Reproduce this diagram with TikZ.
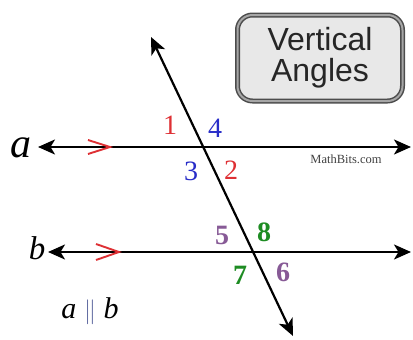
\documentclass[tikz,border=0pt]{standalone}
\usepackage{fontspec}
\setmainfont{Liberation Serif}
\setsansfont{Liberation Sans}
\usepackage{tikz}
\usetikzlibrary{arrows.meta,positioning}
\usepackage{xcolor}
\definecolor{angred}{RGB}{222,48,52}
\definecolor{angblue}{RGB}{40,45,200}
\definecolor{angpurple}{RGB}{135,90,150}
\definecolor{anggreen}{RGB}{30,140,35}
\definecolor{parblue}{RGB}{95,105,160}
\tikzset{
  >={Stealth[length=17pt,width=15pt,inset=4.5pt]},
  line/.style={<->,line width=2.2pt},
  parmark/.style={draw=angred,line width=1.9pt},
  num/.style={inner sep=0pt,font=\fontsize{28}{28}\selectfont},
  bnum/.style={inner sep=0pt,font=\fontsize{28}{28}\selectfont\bfseries},
}

\begin{document}
\begin{tikzpicture}[
x=1pt,y=-1pt,
titlebox/.style={draw=black!70,line width=1.5pt,double=black!35,double distance=2pt,
  fill=black!9,rounded corners=15pt,minimum width=165pt,minimum height=86pt,
  align=center,text=black!85,font=\sffamily\fontsize{32}{31}\selectfont}
]
\useasboundingbox (0,0) rectangle (413,340);

\coordinate (aL) at (38,147);
\coordinate (aR) at (411,147);
\coordinate (bL) at (48,252);
\coordinate (bR) at (411,252);
\coordinate (tT) at (151,37);
\coordinate (tB) at (293,336);
\coordinate (pa) at (110,147);
\coordinate (pb) at (119,252);

\draw[line] (aL) -- (aR);
\draw[line] (bL) -- (bR);
\draw[line] (tT) -- (tB);

% parallel marks
\draw[parmark] ([shift={(-22,-7)}]pa) -- (pa) -- ([shift={(-22,7)}]pa);
\draw[parmark] ([shift={(-23,-8)}]pb) -- (pb) -- ([shift={(-23,8)}]pb);

\node[titlebox] (title) at (320,58) {Vertical\\Angles};

\node[inner sep=0pt,font=\fontsize{42}{42}\selectfont\itshape] (la) at (21,148) {a};
\node[inner sep=0pt,font=\fontsize{33}{33}\selectfont\itshape] (lb) at (37,248) {b};
\node[inner sep=0pt,anchor=base,font=\fontsize{30}{30}\selectfont] (par) at (90,318)
  {\textit{a} {\color{parblue}$\parallel$} \textit{b}};

\node[num,text=angred] (n1) at (170,125) {1};
\node[num,text=angblue] (n4) at (215,128) {4};
\node[num,text=angblue] (n3) at (191,171) {3};
\node[num,text=angred] (n2) at (231,170) {2};
\node[bnum,text=angpurple] (n5) at (222,235) {5};
\node[bnum,text=anggreen] (n8) at (264,232) {8};
\node[bnum,text=anggreen] (n7) at (240,275) {7};
\node[bnum,text=angpurple] (n6) at (283,272) {6};

\node[inner sep=0pt,text=black!75,font=\fontsize{12.5}{12.5}\selectfont] (mb) at (346,159) {MathBits.com};
\end{tikzpicture}
\end{document}
